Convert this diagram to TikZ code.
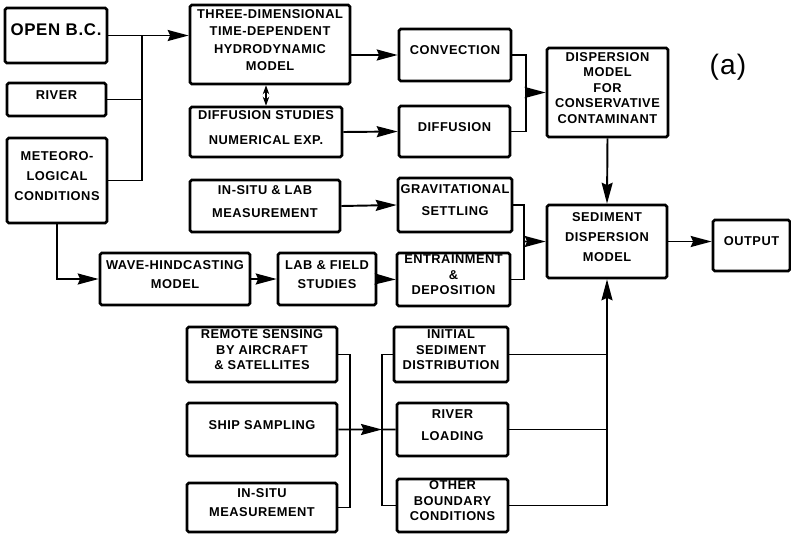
\documentclass[tikz,border=0pt]{standalone}
\usepackage{fontspec}
\setmainfont{Liberation Sans}[LetterSpace=4]
\usetikzlibrary{arrows.meta,fit}

\tikzset{
  blk/.style={draw, line width=1.5pt, rounded corners=1pt, inner sep=0pt,
    align=center, font=\fontsize{7.3}{11.3}\selectfont\bfseries},
  dense/.style={font=\fontsize{7.3}{8.8}\selectfont\bfseries},
  link/.style={line width=1.1pt},
  flow/.style={line width=1.1pt, -{Stealth[length=4.2mm,width=2.2mm,inset=0.5mm]}},
}

\begin{document}
\begin{tikzpicture}[x=0.02cm, y=-0.02cm]
    \useasboundingbox (0,0) rectangle (791,534);
    \node[blk, fit={(5,8) (107,63)}, font=\fontsize{9.6}{11}\selectfont\bfseries] (openbc) {OPEN B.C.};
    \node[blk, fit={(7,83) (106,116)}] (river) {RIVER};
    \node[blk, fit={(7,138) (107,223)}] (meteor) {METEORO-\\LOGICAL\\CONDITIONS};
    \node[blk, fit={(190,5) (350,84)}, font=\fontsize{7.3}{9.9}\selectfont\bfseries] (threed) {THREE-DIMENSIONAL\\TIME-DEPENDENT\\HYDRODYNAMIC\\MODEL};
    \node[blk, fit={(190,107) (342,157)}, font=\fontsize{7.3}{14}\selectfont\bfseries] (diffstud) {DIFFUSION STUDIES\\NUMERICAL EXP.};
    \node[blk, fit={(190,180) (340,232)}, font=\fontsize{7.3}{13}\selectfont\bfseries] (insitulab) {IN-SITU \& LAB\\MEASUREMENT};
    \node[blk, fit={(100,253) (250,305)}] (wave) {WAVE-HINDCASTING\\MODEL};
    \node[blk, fit={(278,253) (376,305)}] (labfield) {LAB \& FIELD\\STUDIES};
    \node[blk, fit={(399,29) (511,81)}] (convection) {CONVECTION};
    \node[blk, fit={(399,106) (510,157)}] (diffusion) {DIFFUSION};
    \node[blk, fit={(398,178) (512,232)}, font=\fontsize{7.3}{12.5}\selectfont\bfseries] (gravit) {GRAVITATIONAL\\SETTLING};
    \node[blk, dense, fit={(397,253) (510,306)}] (entrain) {ENTRAINMENT\\\&\\DEPOSITION};
    \node[blk, dense, fit={(547,48) (668,137)}] (dispmod) {DISPERSION\\MODEL\\FOR\\CONSERVATIVE\\CONTAMINANT};
    \node[blk, fit={(547,205) (667,278)}] (sedmod) {SEDIMENT\\DISPERSION\\MODEL};
    \node[blk, fit={(713,220) (790,271)}] (output) {OUTPUT};
    \node[blk, dense, fit={(187,327) (337,382)}] (remote) {REMOTE SENSING\\BY AIRCRAFT\\\& SATELLITES};
    \node[blk, fit={(187,403) (337,456)}] (ship) {SHIP SAMPLING};
    \node[blk, fit={(187,483) (337,532)}, font=\fontsize{7.3}{10.8}\selectfont\bfseries] (insitu) {IN-SITU\\MEASUREMENT};
    \node[blk, dense, fit={(394,327) (508,382)}] (initial) {INITIAL\\SEDIMENT\\DISTRIBUTION};
    \node[blk, fit={(397,403) (508,456)}, font=\fontsize{7.3}{12.5}\selectfont\bfseries] (riverload) {RIVER\\LOADING};
    \node[blk, dense, fit={(397,479) (508,532)}] (other) {OTHER\\BOUNDARY\\CONDITIONS};
    \node[font=\fontsize{16}{16}\selectfont] (tag) at (728,67) {(a)};

    \coordinate (busa) at (142,35.5);
    \coordinate (joina) at (526,92.5);
    \coordinate (joinb) at (524,241.5);
    \coordinate (busb) at (350,429.5);
    \coordinate (busc) at (382,429.5);

    \draw[flow] (openbc.east) -- (threed.west |- openbc.east);
    \draw[link] (river.east) -- (river.east -| busa);
    \draw[link] (meteor.east) -| (busa);
    \draw[flow] (meteor.south) |- (wave.west);
    \draw[link, {Stealth[length=1.8mm,width=1.3mm]}-{Stealth[length=1.8mm,width=1.3mm]}] (diffstud.north) -- (diffstud.north |- threed.south);
    \draw[flow] (threed.east |- convection.west) -- (convection.west);
    \draw[flow] (diffstud.east) -- (diffusion.west);
    \draw[flow] (insitulab.east) -- (gravit.west);
    \draw[flow] (wave.east) -- (labfield.west);
    \draw[flow] (labfield.east) -- (entrain.west);
    \draw[link] (convection.east) -| (joina);
    \draw[link] (diffusion.east) -| (joina);
    \draw[flow] (joina) -- (dispmod.west);
    \draw[link] (gravit.east) -| (joinb);
    \draw[link] (entrain.east) -| (joinb);
    \draw[flow] (joinb) -- (sedmod.west);
    \draw[flow] (dispmod.south) -- (sedmod.north);
    \draw[flow] (sedmod.east) -- (sedmod.east -| output.west);
    \draw[link] (remote.east) -| (busb);
    \draw[link] (insitu.east) -| (busb);
    \draw[flow] (ship.east) -- (busc);
    \draw[link] (initial.west) -| (busc);
    \draw[link] (other.west) -| (busc);
    \draw[link] (riverload.west) -- (busc);
    \draw[link] (initial.east) -- (initial.east -| sedmod.south);
    \draw[link] (riverload.east) -- (riverload.east -| sedmod.south);
    \draw[flow] (other.east) -| (sedmod.south);
\end{tikzpicture}
\end{document}
